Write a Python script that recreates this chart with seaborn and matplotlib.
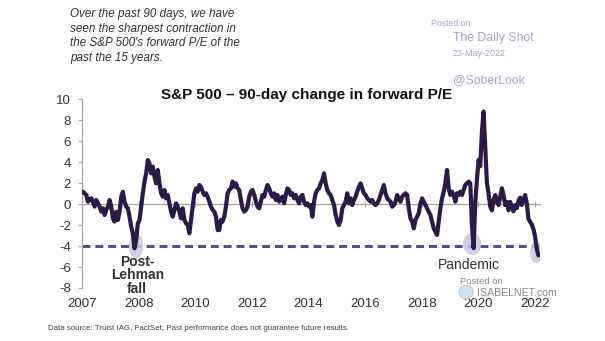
import numpy as np
import pandas as pd
import matplotlib
matplotlib.use("Agg")
import matplotlib.pyplot as plt
from matplotlib.patches import Ellipse
import seaborn as sns

# 90-day change in the S&P 500 forward P/E, sampled roughly every three weeks
pe_change = [
    # 2007 - 2009
    1.17, 1.02, 0.86, 0.22, 0.44, 0.54, 0.22, -0.25, 0.38, 0.06, -0.25, -0.73,
    -0.41, -1.05, -0.57, -0.25, 0.38, -0.25, -1.37, -1.68, -0.73, -1.52, -0.73,
    0.70, 1.17, 0.22, -0.25, -0.41, -1.21, -2.16, -2.79, -4.22, -3.43, -1.84,
    -1.52, -0.25, 1.02, 2.13, 2.92, 4.19, 3.87, 2.92, 3.56, 2.60, 1.97, 3.24,
    # 2009 - 2012
    1.97, 1.02, 0.70, 1.33, 0.54, 0.86, 0.06, -0.73, -1.21, -0.57, 0.06, -0.25,
    -0.73, -1.37, -0.41, -1.52, -1.84, -2.00, -2.79, -1.52, -0.25, 1.02, 1.49,
    1.17, 1.81, 1.65, 1.17, 0.86, 1.02, 0.70, 0.22, -0.25, -0.57, -0.73, -1.21,
    -2.48, -2.48, -1.52, -1.68, -1.21, -0.25, 1.02, 1.33, 1.49, 2.13, 1.65, 1.97,
    # 2012 - 2014
    1.49, 1.33, 0.38, -0.41, -0.73, -0.57, -0.25, 0.70, 1.17, 1.33, 0.86, 0.22,
    -0.25, -0.41, 0.22, 0.86, 0.70, 1.33, 1.81, 1.49, 1.02, 0.70, 1.02, 0.38,
    0.86, 0.22, 0.54, 0.70, 0.06, 0.86, 1.49, 1.33, 0.86, 1.02, 0.54, 0.86,
    0.38, 0.06, 0.70, 0.86, 0.22, -0.10, 0.06, -0.25, -0.10, -1.21, 0.22,
    # 2014 - 2017
    1.02, 1.33, 1.49, 1.97, 2.29, 2.92, 1.97, 1.33, 1.02, 0.86, 0.38, -0.10,
    -1.05, -1.68, -2.00, -1.52, -0.41, -0.10, 0.22, 1.02, 0.06, 0.54, -0.10,
    0.38, 0.70, 1.17, 1.65, 1.97, 1.49, 1.02, 0.86, 0.54, 0.38, 0.22, 0.38,
    0.06, -0.10, 0.06, 0.38, 0.86, 1.33, 1.81, 1.02, 0.54, 0.38, 0.22, -0.25,
    # 2017 - 2020
    -0.10, 0.22, 0.86, 0.54, 0.22, 0.70, 0.86, 1.02, 0.86, -0.41, -1.37, -1.68,
    -2.32, -1.52, -1.21, -0.89, 0.06, 0.54, 0.22, -0.10, -0.41, -0.73, -1.05,
    -1.68, -2.32, -2.63, -2.95, -1.68, -0.41, 0.54, 1.17, 1.97, 3.24, 1.49,
    0.86, 1.17, 0.86, 0.22, 1.02, 0.86, 1.17, 0.86, 1.33, 1.81, 1.97, 2.13, 1.97,
    # 2020 - 2022
    -2.00, -4.20, 0.20, 2.30, 4.20, 3.60, 6.90, 8.80, 5.30, 2.00, 1.00, -0.25,
    -0.60, 0.40, 0.85, 0.20, -0.10, 0.70, 1.50, 0.85, -0.10, 0.20, -0.60, 0.20,
    -0.25, -0.70, -0.10, -0.40, 0.30, 0.60, -0.10, 0.50, 0.85, 0.05, -1.40,
    -1.70, -1.95, -2.40, -3.10, -4.30, -4.90,
]
first_obs, last_obs = 2006.035, 2022.125
tick_pos = [2006, 2008, 2010, 2012, 2014, 2016, 2018, 2020, 2022]
tick_labels = ["2007", "2008", "2010", "2012", "2014", "2016", "2018", "2020", "2022"]
y_ticks = list(range(-8, 11, 2))
threshold = -4

# highlighted troughs: (centre year, centre value, width in years, height)
troughs = [(2007.91, -4.0, 0.50, 2.3), (2019.78, -3.8, 0.64, 2.1), (2022.04, -4.6, 0.42, 2.1)]

df = pd.DataFrame({
    "date": np.linspace(first_obs, last_obs, len(pe_change)),
    "change": pe_change,
})

sns.set_theme(style="white")
plt.rcParams["font.family"] = ["Liberation Sans", "DejaVu Sans"]

W, H = 605, 341
fig = plt.figure(figsize=(W / 100, H / 100), dpi=100)
ax = fig.add_axes([82 / W, 1 - 288 / H, (540 - 82) / W, (288 - 99) / H])

line_col = "#2a1a46"
dash_col = "#5b4a8c"
grey = "#a6a6a6"
text_col = "#333333"

ax.axhline(threshold, color=dash_col, lw=2.2, ls=(0, (2.6, 1.6)), zorder=2)
for cx, cy, w, h in troughs:
    ax.add_patch(Ellipse((cx, cy), w, h, facecolor="#c9c7db", edgecolor="none",
                         alpha=0.85, zorder=3))
sns.lineplot(data=df, x="date", y="change", ax=ax, color=line_col, lw=3.0,
             zorder=4, legend=False)

ax.set_xlim(2006, 2022.18)
ax.set_ylim(-8, 10)
ax.set_xlabel("")
ax.set_ylabel("")

for side in ("top", "right"):
    ax.spines[side].set_visible(False)
ax.spines["left"].set_color(grey)
ax.spines["left"].set_linewidth(0.9)
ax.spines["bottom"].set_position(("data", 0))
ax.spines["bottom"].set_color(grey)
ax.spines["bottom"].set_linewidth(0.9)

ax.set_yticks(y_ticks)
ax.set_yticklabels([str(v) for v in y_ticks])
ax.set_xticks(tick_pos)
ax.set_xticklabels(tick_labels)
ax.tick_params(axis="y", which="both", left=True, length=3, width=0.8, color=grey,
               pad=5, labelsize=9.5, labelcolor=text_col)
ax.tick_params(axis="x", which="both", bottom=True, direction="inout", length=4,
               width=0.8, color=grey, pad=66, labelsize=9.5, labelcolor=text_col)
ax.grid(False)

# annotations
ax.text(2007.95, -4.85, "Post-\nLehman\nfall", ha="center", va="top", fontsize=10,
        fontweight="bold", color=text_col, linespacing=0.95, zorder=5)
ax.text(2019.68, -5.8, "Pandemic", ha="center", va="center", fontsize=10,
        color=text_col, zorder=5)

fig.text(307 / W, 1 - 95 / H, "S&P 500 \u2013 90-day change in forward P/E",
         ha="center", va="center", fontsize=11, fontweight="bold", color="#111111")
fig.text(70 / W, 1 - 8 / H,
         "Over the past 90 days, we have\nseen the sharpest contraction in\n"
         "the S&P 500's forward P/E of the\npast the 15 years.",
         ha="left", va="top", fontsize=8.4, style="italic", color=text_col,
         linespacing=1.3)

wm = "#a4a4cf"
fig.text(431 / W, 1 - 23 / H, "Posted on", ha="left", va="center", fontsize=6.3, color=wm)
fig.text(453 / W, 1 - 38 / H, "The Daily Shot", ha="left", va="center", fontsize=8.8, color=wm)
fig.text(453 / W, 1 - 54 / H, "23-May-2022", ha="left", va="center", fontsize=6.5, color=wm)
fig.text(453 / W, 1 - 80 / H, "@SoberLook", ha="left", va="center", fontsize=8.8, color=wm)

fig.add_artist(Ellipse((466 / W, 1 - 292 / H), 14 / W, 14 / H, transform=fig.transFigure,
                       facecolor="#cfe0ee", edgecolor="#b8c4d0", lw=0.6, zorder=1))
fig.text(481 / W, 1 - 281 / H, "Posted on", ha="center", va="center", fontsize=6.8, color="#8a8a8a")
fig.text(477 / W, 1 - 293 / H, "ISABELNET.com", ha="left", va="center", fontsize=7.6, color="#8a8a8a")

fig.text(48 / W, 1 - 328 / H,
         "Data source: Truist IAG, FactSet; Past performance does not guarantee future results.",
         ha="left", va="center", fontsize=5.7, color="#444444")

fig.savefig("out.png", dpi=100)
